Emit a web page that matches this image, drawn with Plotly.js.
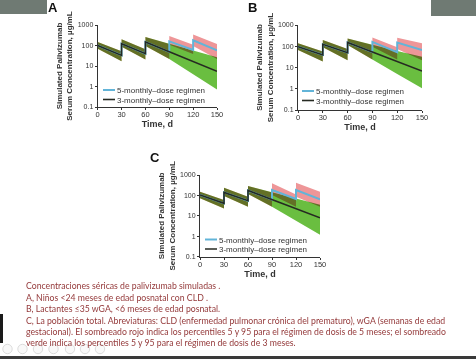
<!DOCTYPE html>
<html>
<head>
<meta charset="utf-8">
<script src="https://cdn.plot.ly/plotly-3.0.1.min.js"></script>
<style>
html,body{margin:0;padding:0;background:#fff;}
#chart{width:476px;height:359px;}
.js-fill{mix-blend-mode:multiply;}
.legendlines path{d:path("M26,0h12") !important;}
</style>
</head>
<body>
<div id="chart"></div>
<script>
// ---- data ----
// time points in days; doses give instantaneous jumps, so dose days appear twice
const time = [0, 30, 30, 60, 60, 90, 90, 120, 120, 150];
const xTicks = [0, 30, 60, 90, 120, 150];
const yTicks = [0.1, 1, 10, 100, 1000];
const yTickText = ['0.1', '1', '10', '100', '1000'];
const seriesNames = ['5-monthly\u2013dose regimen', '3-monthly\u2013dose regimen'];
const panelLetters = ['A', 'B', 'C'];

// Panel A: children <24 months with CLD
const a_med5  = [100, 33, 123, 40, 148, 49, 160, 60, 180, 58];
const a_med3  = [100, 33, 123, 40, 148, 49, 49, 16.5, 16.5, 5.5];
const a_p95_5 = [148, 52, 200, 65, 260, 120, 290, 110, 340, 120];
const a_p5_5  = [69, 17, 86, 21, 95, 22, 110, 38, 95, 22];
const a_p95_3 = [148, 52, 200, 65, 260, 120, 120, 57, 57, 27];
const a_p5_3  = [69, 17, 86, 21, 95, 22, 22, 4, 4, 0.72];

// Panel B: infants <=35 wGA, <6 months
const b_med5  = [95, 39, 123, 50, 150, 53, 160, 52, 150, 66];
const b_med3  = [95, 39, 123, 50, 150, 53, 53, 19, 19, 6.8];
const b_p95_5 = [137, 56, 197, 74, 234, 115, 260, 89, 253, 137];
const b_p5_5  = [66, 19, 89, 22, 114, 24, 95, 24, 74, 22];
const b_p95_3 = [137, 56, 197, 74, 234, 115, 115, 60, 60, 32];
const b_p5_3  = [66, 19, 89, 22, 114, 24, 24, 5, 5, 1.05];

// Panel C: total population
const c_med5  = [105, 41, 141, 55, 175, 62, 185, 67, 185, 64];
const c_med3  = [105, 41, 141, 55, 175, 62, 62, 22, 22, 8];
const c_p95_5 = [152, 60, 240, 87, 290, 140, 390, 112, 420, 152];
const c_p5_5  = [72, 23, 94, 28, 117, 28, 105, 28, 87, 28];
const c_p95_3 = [152, 60, 240, 87, 290, 140, 140, 70, 70, 35];
const c_p5_3  = [72, 23, 94, 28, 117, 28, 28, 6, 6, 1.2];

const captionLines = [
  'Concentraciones séricas de palivizumab simuladas .',
  'A, Niños &lt;24 meses de edad posnatal con CLD .',
  'B, Lactantes ≤35 wGA, &lt;6 meses de edad posnatal.',
  'C, La población total. Abreviaturas: CLD (enfermedad pulmonar crónica del prematuro), wGA (semanas de edad',
  'gestacional). El sombreado rojo indica los percentiles 5 y 95 para el régimen de dosis de 5 meses; el sombreado',
  'verde indica los percentiles 5 y 95 para el régimen de dosis de 3 meses.'
];

// ---- presentation ----
const W = 476, H = 359;
const fx = p => p / W;
const fy = p => 1 - p / H;

const COL_GREEN = 'rgb(106,190,64)';
const COL_RED = 'rgb(238,150,152)';
const COL_BLUE = '#62b4d8';
const COL_DARK = '#262a22';
const FONT = 'Liberation Sans, Arial, sans-serif';

const panels = [
  {med5: a_med5, med3: a_med3, p95_5: a_p95_5, p5_5: a_p5_5, p95_3: a_p95_3, p5_3: a_p5_3,
   box: {x0: 97.7, x1: 217, y0: 25, y1: 107}, letter: {x: 53, y: 7}, leg: {x: 77, y1: 90, y2: 99.5},
   xTitleStandoff: 2},
  {med5: b_med5, med3: b_med3, p95_5: b_p95_5, p5_5: b_p5_5, p95_3: b_p95_3, p5_3: b_p5_3,
   box: {x0: 298, x1: 422, y0: 25, y1: 110}, letter: {x: 252, y: 7}, leg: {x: 276, y1: 91, y2: 100.5},
   xTitleStandoff: 1},
  {med5: c_med5, med3: c_med3, p95_5: c_p95_5, p5_5: c_p5_5, p95_3: c_p95_3, p5_3: c_p5_3,
   box: {x0: 200, x1: 320, y0: 175, y1: 256.7}, letter: {x: 155, y: 157}, leg: {x: 179, y1: 239.5, y2: 249},
   xTitleStandoff: 1}
];

function band(t, lo, hi, color, xa, ya) {
  return {
    x: t.concat(t.slice().reverse()),
    y: hi.concat(lo.slice().reverse()),
    type: 'scatter', mode: 'lines', fill: 'toself', fillcolor: color,
    line: {width: 0}, hoverinfo: 'skip', showlegend: false, xaxis: xa, yaxis: ya
  };
}

const traces = [];
const layout = {
  width: W, height: H,
  margin: {l: 0, r: 0, t: 0, b: 0},
  paper_bgcolor: '#ffffff', plot_bgcolor: 'rgba(0,0,0,0)',
  showlegend: true,
  font: {family: FONT, size: 8, color: '#333'},
  annotations: [], shapes: []
};

panels.forEach((p, i) => {
  const n = i === 0 ? '' : String(i + 1);
  const xa = 'x' + n, ya = 'y' + n;
  traces.push(band(time, p.p5_3, p.p95_3, COL_GREEN, xa, ya));
  traces.push(band(time, p.p5_5, p.p95_5, COL_RED, xa, ya));
  const l1 = 'legend' + (2 * i + 1 === 1 ? '' : String(2 * i + 1));
  const l2 = 'legend' + String(2 * i + 2);
  traces.push({x: time, y: p.med5, type: 'scatter', mode: 'lines', name: seriesNames[0],
    line: {color: COL_BLUE, width: 2}, xaxis: xa, yaxis: ya, legend: l1, hoverinfo: 'skip'});
  traces.push({x: time, y: p.med3, type: 'scatter', mode: 'lines', name: seriesNames[1],
    line: {color: COL_DARK, width: 1.6}, xaxis: xa, yaxis: ya, legend: l2, hoverinfo: 'skip'});

  const b = p.box;
  layout['xaxis' + n] = {
    domain: [fx(b.x0), fx(b.x1)], anchor: ya, range: [0, 150],
    tickvals: xTicks, ticks: 'outside', ticklen: 2, tickwidth: 1, tickcolor: '#333',
    ticklabelstandoff: -2,
    showline: true, linecolor: '#333', linewidth: 1, showgrid: false, zeroline: false,
    tickfont: {family: FONT, size: 7.5, color: '#333'},
    title: {text: 'Time, d', standoff: p.xTitleStandoff, font: {family: FONT, size: 9, color: '#333', weight: 'bold'}},
    automargin: false, fixedrange: true
  };
  layout['yaxis' + n] = {
    domain: [fy(b.y1), fy(b.y0)], anchor: xa, type: 'log', range: [-1, 3],
    tickvals: yTicks, ticktext: yTickText, ticks: 'outside', ticklen: 2, tickwidth: 1, tickcolor: '#333',
    showline: true, linecolor: '#333', linewidth: 1, showgrid: false, zeroline: false,
    tickfont: {family: FONT, size: 7, color: '#333'},
    title: {text: 'Simulated Palivizumab<br>Serum Concentration, µg/mL', standoff: 3,
      font: {family: FONT, size: 8, color: '#333', weight: 'bold'}},
    automargin: false, fixedrange: true
  };
  const legStyle = {xanchor: 'left', yanchor: 'middle', bgcolor: 'rgba(0,0,0,0)', borderwidth: 0,
    font: {family: FONT, size: 8, color: '#333'}, tracegroupgap: 0};
  layout[l1] = Object.assign({x: fx(p.leg.x), y: fy(p.leg.y1)}, legStyle);
  layout[l2] = Object.assign({x: fx(p.leg.x), y: fy(p.leg.y2)}, legStyle);

  layout.annotations.push({text: panelLetters[i], xref: 'paper', yref: 'paper',
    x: fx(p.letter.x), y: fy(p.letter.y), showarrow: false, xanchor: 'center', yanchor: 'middle',
    font: {family: FONT, size: 13, color: '#111', weight: 'bold'}});
});

// caption
const CAP_COL = '#94393a';
layout.annotations.push({text: captionLines[0], xref: 'paper', yref: 'paper',
  x: fx(24), y: fy(285), xanchor: 'left', yanchor: 'middle', showarrow: false, align: 'left',
  font: {family: 'Lato, sans-serif', size: 8.7, color: CAP_COL}});
layout.annotations.push({text: captionLines.slice(1).join('<br>'), xref: 'paper', yref: 'paper',
  x: fx(24), y: fy(319.5), xanchor: 'left', yanchor: 'middle', showarrow: false, align: 'left',
  font: {family: 'Lato, sans-serif', size: 8.7, color: CAP_COL}});

// screen-capture surroundings
const rect = (x0, y0, x1, y1, col) => ({type: 'rect', xref: 'paper', yref: 'paper',
  x0: fx(x0), x1: fx(x1), y0: fy(y1), y1: fy(y0), fillcolor: col, line: {width: 0}, layer: 'below'});
layout.shapes.push(rect(0, 0, 47, 14, '#6f7a73'));
layout.shapes.push(rect(431, 0, 476, 16, '#6f7a73'));
layout.shapes.push(rect(0, 314, 3, 343, '#1a1a1a'));
layout.shapes.push(rect(0, 356, 476, 359, '#3a3a3a'));
[7.5, 22.5, 38, 53.5, 70, 85, 100].forEach(cx => {
  layout.shapes.push({type: 'circle', xref: 'paper', yref: 'paper',
    x0: fx(cx - 4.7), x1: fx(cx + 4.7), y0: fy(349 + 4.7), y1: fy(349 - 4.7),
    line: {color: '#dcdcdc', width: 1}, fillcolor: 'rgba(245,245,245,0.6)'});
});

Plotly.newPlot('chart', traces, layout, {staticPlot: true, displayModeBar: false});
</script>
</body>
</html>
